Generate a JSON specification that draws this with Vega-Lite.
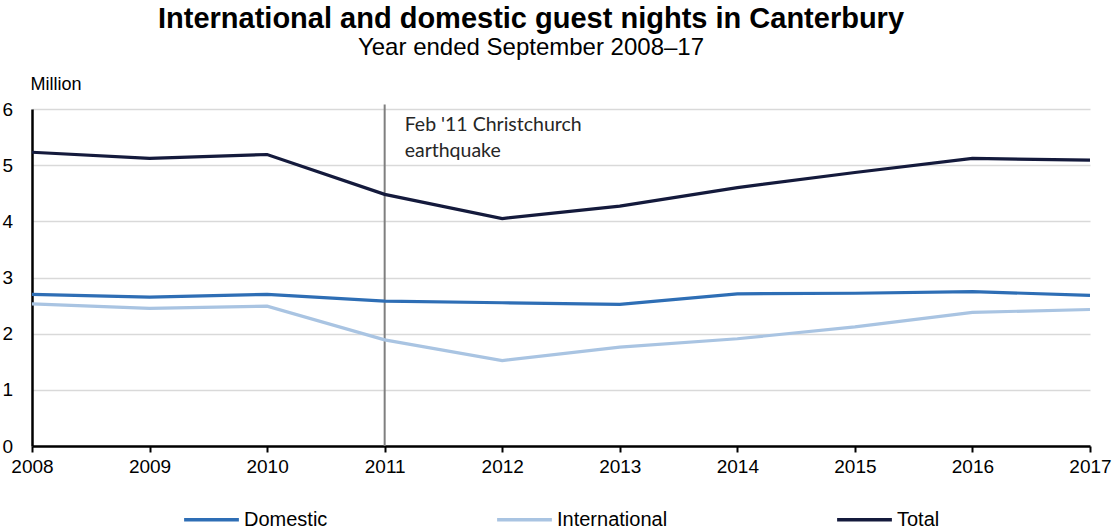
{
  "$schema": "https://vega.github.io/schema/vega-lite/v6.json",
  "width": 1058,
  "height": 337,
  "autosize": {"type": "none"},
  "padding": {"left": 32, "top": 109, "right": 24, "bottom": 85},
  "background": "white",
  "config": {
    "font": "Liberation Sans",
    "view": {"stroke": null}
  },
  "title": {
    "text": "International and domestic guest nights in Canterbury",
    "subtitle": "Year ended September 2008–17",
    "anchor": "middle",
    "dx": -30,
    "fontSize": 29,
    "fontWeight": "bold",
    "color": "#000000",
    "subtitleFontSize": 24,
    "subtitleColor": "#000000",
    "subtitlePadding": 2,
    "offset": 15,
    "font": "Liberation Sans",
    "subtitleFont": "Liberation Sans"
  },
  "datasets": {
    "nights": [
      {"year": 2008, "series": "Domestic", "value": 2.70},
      {"year": 2009, "series": "Domestic", "value": 2.65},
      {"year": 2010, "series": "Domestic", "value": 2.70},
      {"year": 2011, "series": "Domestic", "value": 2.58},
      {"year": 2012, "series": "Domestic", "value": 2.55},
      {"year": 2013, "series": "Domestic", "value": 2.52},
      {"year": 2014, "series": "Domestic", "value": 2.71},
      {"year": 2015, "series": "Domestic", "value": 2.72},
      {"year": 2016, "series": "Domestic", "value": 2.75},
      {"year": 2017, "series": "Domestic", "value": 2.68},
      {"year": 2008, "series": "International", "value": 2.53},
      {"year": 2009, "series": "International", "value": 2.45},
      {"year": 2010, "series": "International", "value": 2.49},
      {"year": 2011, "series": "International", "value": 1.89},
      {"year": 2012, "series": "International", "value": 1.52},
      {"year": 2013, "series": "International", "value": 1.76},
      {"year": 2014, "series": "International", "value": 1.91},
      {"year": 2015, "series": "International", "value": 2.12},
      {"year": 2016, "series": "International", "value": 2.38},
      {"year": 2017, "series": "International", "value": 2.43},
      {"year": 2008, "series": "Total", "value": 5.23},
      {"year": 2009, "series": "Total", "value": 5.12},
      {"year": 2010, "series": "Total", "value": 5.19},
      {"year": 2011, "series": "Total", "value": 4.48},
      {"year": 2012, "series": "Total", "value": 4.05},
      {"year": 2013, "series": "Total", "value": 4.27},
      {"year": 2014, "series": "Total", "value": 4.60},
      {"year": 2015, "series": "Total", "value": 4.87},
      {"year": 2016, "series": "Total", "value": 5.12},
      {"year": 2017, "series": "Total", "value": 5.09}
    ],
    "events": [
      {"year": 2011, "label": ["Feb '11 Christchurch", "earthquake"]}
    ]
  },
  "layer": [
    {
      "data": {"name": "events"},
      "mark": {"type": "rule", "color": "#7f7f7f", "strokeWidth": 2, "clip": false},
      "encoding": {
        "x": {"field": "year", "type": "quantitative"},
        "y": {"datum": 0, "type": "quantitative"},
        "y2": {"datum": 6.08}
      }
    },
    {
      "data": {"name": "nights"},
      "mark": {"type": "line", "strokeWidth": 3.2},
      "encoding": {
        "x": {
          "field": "year",
          "type": "quantitative",
          "scale": {"domain": [2008, 2017], "nice": false, "zero": false},
          "axis": {
            "title": null,
            "values": [2008, 2009, 2010, 2011, 2012, 2013, 2014, 2015, 2016, 2017],
            "format": "d",
            "grid": false,
            "domainColor": "#000000",
            "domainWidth": 2.5,
            "tickColor": "#000000",
            "tickWidth": 2,
            "tickSize": 6,
            "labelFontSize": 19,
            "labelColor": "#000000",
            "labelPadding": 5,
            "labelFlush": false,
            "labelOverlap": false
          }
        },
        "y": {
          "field": "value",
          "type": "quantitative",
          "scale": {"domain": [0, 6], "nice": false},
          "axis": {
            "title": "Million",
            "titleAngle": 0,
            "titleX": -2,
            "titleY": -25,
            "titleAlign": "left",
            "titleBaseline": "middle",
            "titleFontSize": 18,
            "titleFontWeight": "normal",
            "titleColor": "#000000",
            "values": [0, 1, 2, 3, 4, 5, 6],
            "format": "d",
            "grid": true,
            "gridColor": "#d9d9d9",
            "gridWidth": 1.5,
            "ticks": false,
            "domainColor": "#000000",
            "domainWidth": 2.5,
            "labelAlign": "left",
            "labelPadding": 30,
            "labelFontSize": 19,
            "labelColor": "#000000"
          }
        },
        "color": {
          "field": "series",
          "type": "nominal",
          "scale": {
            "domain": ["Domestic", "International", "Total"],
            "range": ["#2e6eb5", "#a9c4e2", "#141a3c"]
          },
          "legend": {
            "title": null,
            "orient": "none",
            "legendX": 150,
            "legendY": 381,
            "direction": "horizontal",
            "symbolType": "stroke",
            "symbolSize": 3000,
            "symbolStrokeWidth": 3.5,
            "labelFont": "Liberation Sans",
            "labelFontSize": 20,
            "labelColor": "#000000",
            "labelOffset": 3,
            "columnPadding": 162,
            "labelLimit": 300
          }
        }
      }
    },
    {
      "data": {"name": "events"},
      "mark": {
        "type": "text",
        "align": "left",
        "baseline": "top",
        "dx": 20,
        "font": "Lato",
        "fontSize": 19.5,
        "lineHeight": 26,
        "color": "#262626"
      },
      "encoding": {
        "x": {"field": "year", "type": "quantitative"},
        "y": {"datum": 5.875, "type": "quantitative"},
        "text": {"field": "label"}
      }
    }
  ]
}
